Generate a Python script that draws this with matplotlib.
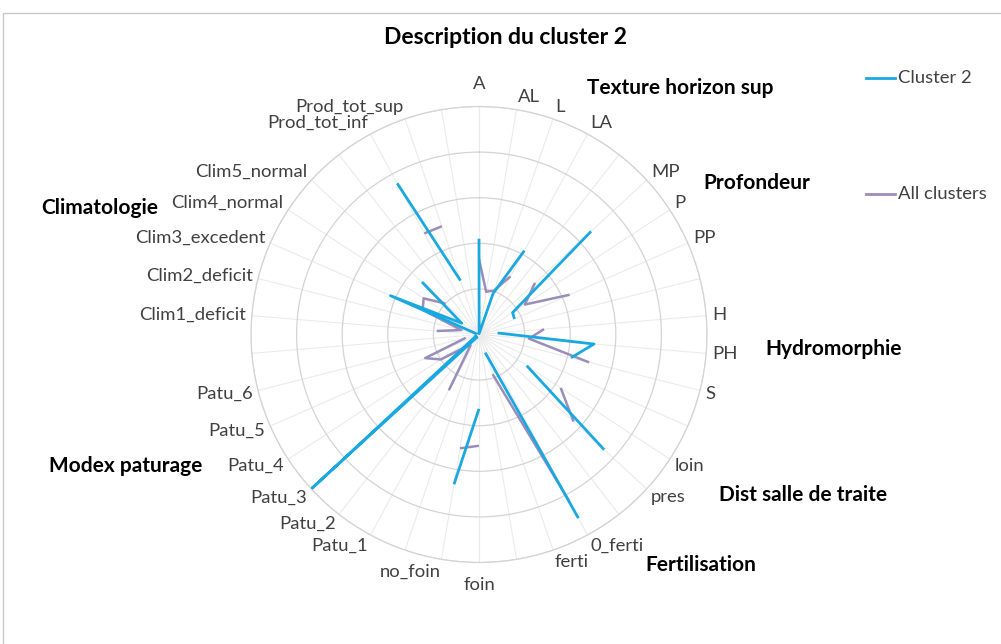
import numpy as np
import matplotlib
matplotlib.use('Agg')
import matplotlib.pyplot as plt
from matplotlib.lines import Line2D
from matplotlib.patches import Rectangle

nan = np.nan

# spokes of the radar, blanks separate the groups
categories = ['A', 'AL', 'L', 'LA', '',
              'MP', 'P', 'PP', '',
              'H', 'PH', 'S', '',
              'loin', 'pres', '',
              '0_ferti', 'ferti', '',
              'foin', 'no_foin', '',
              'Patu_1', 'Patu_2', 'Patu_3', 'Patu_4', 'Patu_5', 'Patu_6', '',
              'Clim1_deficit', 'Clim2_deficit', 'Clim3_excedent', 'Clim4_normal', 'Clim5_normal', '',
              'Prod_tot_inf', 'Prod_tot_sup', '']

cluster2 = [2.10, 0.02, 0.95, 2.09, nan,
            3.34, 0.88, 0.85, nan,
            0.41, 2.53, 2.08, nan,
            1.25, 3.73, nan,
            4.58, 0.42, nan,
            1.63, 3.33, nan,
            0.10, 0.08, 4.98, 0.12, 0.08, 0.05, nan,
            0.05, 0.05, 2.12, 0.45, 1.70, nan,
            3.77, 1.25, nan]

all_clusters = [1.66, 0.95, 1.02, 1.45, nan,
                1.67, 1.20, 2.17, nan,
                1.43, 1.10, 2.49, nan,
                2.14, 2.82, nan,
                4.15, 0.92, nan,
                2.44, 2.53, nan,
                1.39, 0.30, 0.40, 1.00, 1.29, 0.30, nan,
                0.93, 0.40, 1.35, 1.45, 1.00, nan,
                2.52, 2.51, nan]

group_labels = ['Texture horizon sup', 'Profondeur', 'Hydromorphie', 'Dist salle de traite',
                'Fertilisation', 'Modex paturage', 'Climatologie']
group_pos = [(680, 88), (757, 183), (834, 349), (803, 495), (701, 565), (126, 466), (100, 208)]

series_names = ['Cluster 2', 'All clusters']
colors = ['#19A8E0', '#9B8DBA']

W, H = 1001, 644
plt.rcParams['font.family'] = ['Lato', 'DejaVu Sans']

fig = plt.figure(figsize=(W / 100, H / 100), dpi=100)

# Excel chart-area frame
fig.add_artist(Rectangle((3 / W, -0.05), 1.2, 1.05 - 13 / H, transform=fig.transFigure,
                         fill=False, edgecolor='#c8c8c8', lw=1.0))

cx, cy, R = 479, 334.5, 228
ax = fig.add_axes([(cx - R) / W, 1 - (cy + R) / H, 2 * R / W, 2 * R / H], projection='polar')
ax.set_theta_zero_location('N')
ax.set_theta_direction(-1)

n = len(categories)
angles = np.linspace(0, 2 * np.pi, n, endpoint=False)

ax.set_ylim(0, 5)
ax.set_yticks([1, 2, 3, 4, 5])
ax.set_yticklabels([])
ax.set_xticks(angles)
ax.set_xticklabels([])
ax.yaxis.grid(True, color='#d4d4d4', lw=0.9)
ax.xaxis.grid(True, color='#ebebeb', lw=0.8)
ax.spines['polar'].set_color('#d4d4d4')
ax.spines['polar'].set_linewidth(0.9)
ax.tick_params(length=0)

ax.plot(angles, all_clusters, color=colors[1], lw=1.8, solid_capstyle='butt', zorder=3)
ax.plot(angles, cluster2, color=colors[0], lw=2.0, solid_capstyle='butt', zorder=4)

# category labels around the radar
for a, lab in zip(angles, categories):
    if not lab:
        continue
    s, c = np.sin(a), np.cos(a)
    if abs(s) < 0.01:
        ha = 'center'
        dy = c * 16
    else:
        ha = 'left' if s > 0 else 'right'
        dy = c * 9
    ax.annotate(lab, xy=(a, 5), xytext=(s * 4, dy), textcoords='offset points',
                ha=ha, va='center', fontsize=13.3, color='#404040', annotation_clip=False)

for lab, (x, y) in zip(group_labels, group_pos):
    fig.text(x / W, 1 - y / H, lab, ha='center', va='center', fontsize=15,
             fontweight='bold', color='black')

fig.text(505 / W, 1 - 38 / H, 'Description du cluster 2', ha='center', va='center',
         fontsize=16.5, fontweight='bold', color='black')

# legend entries, spread like the Excel legend
for name, col, y in zip(series_names, colors, [78, 194]):
    fig.add_artist(Line2D([866 / W, 895 / W], [1 - y / H] * 2, transform=fig.transFigure,
                          color=col, lw=2))
    fig.text(898 / W, 1 - y / H, name, ha='left', va='center', fontsize=13.3, color='#404040')

fig.savefig('out.png', dpi=100)
